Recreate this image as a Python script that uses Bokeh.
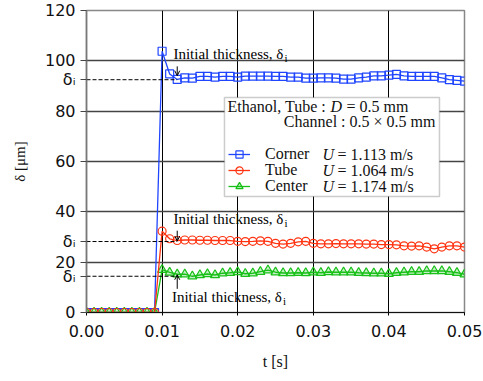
import math
from bokeh.plotting import figure
from bokeh.models import (Range1d, FixedTicker, NumeralTickFormatter, Label, Arrow, OpenHead,
                          BoxAnnotation, Legend, LegendItem)
from bokeh.embed import file_html
from bokeh.resources import INLINE

# ---------------- data ----------------
t = [0.000, 0.001, 0.002, 0.003, 0.004, 0.005, 0.006, 0.007, 0.008, 0.009,
     0.010, 0.011, 0.012, 0.013, 0.014, 0.015, 0.016, 0.017, 0.018, 0.019,
     0.020, 0.021, 0.022, 0.023, 0.024, 0.025, 0.026, 0.027, 0.028, 0.029,
     0.030, 0.031, 0.032, 0.033, 0.034, 0.035, 0.036, 0.037, 0.038, 0.039,
     0.040, 0.041, 0.042, 0.043, 0.044, 0.045, 0.046, 0.047, 0.048, 0.049,
     0.050]

corner = [0.0, 0.0, 0.0, 0.0, 0.0, 0.0, 0.0, 0.0, 0.0, 0.0,
          103.8, 94.8, 92.6, 93.2, 93.1, 93.8, 93.8, 93.5, 93.8, 93.8,
          93.5, 93.9, 93.9, 93.9, 93.9, 93.8, 93.8, 93.5, 93.5, 93.1,
          93.1, 93.2, 93.2, 93.1, 92.7, 92.7, 93.2, 93.5, 94.0, 94.0,
          94.3, 94.6, 94.0, 93.8, 93.8, 93.8, 93.8, 93.2, 92.5, 92.2,
          91.9]

tube = [0.0, 0.0, 0.0, 0.0, 0.0, 0.0, 0.0, 0.0, 0.0, 0.0,
        32.3, 29.3, 28.6, 28.8, 28.8, 28.7, 28.7, 28.6, 28.6, 28.6,
        28.3, 28.2, 28.3, 28.5, 28.3, 27.5, 27.2, 27.5, 28.1, 28.3,
        27.5, 27.3, 27.3, 27.4, 27.3, 27.3, 27.3, 27.2, 27.2, 27.0,
        27.0, 26.9, 26.5, 26.4, 26.5, 26.0, 25.3, 26.0, 26.5, 26.5,
        26.0]

center = [0.0, 0.0, 0.0, 0.0, 0.0, 0.0, 0.0, 0.0, 0.0, 0.0,
          17.0, 15.9, 15.2, 15.2, 14.4, 14.9, 15.3, 14.9, 15.6, 15.8,
          16.1, 15.4, 15.6, 16.2, 16.8, 16.0, 15.7, 15.7, 15.8, 15.7,
          16.0, 15.8, 16.1, 16.0, 16.0, 16.0, 15.8, 15.7, 15.6, 15.6,
          15.4, 15.8, 16.0, 16.2, 16.2, 16.5, 16.5, 16.5, 16.2, 15.8,
          15.2]

series_names = ["Corner", "Tube", "Center"]
velocities = ["= 1.113 m/s", "= 1.064 m/s", "= 1.174 m/s"]
initial_thickness = [92.5, 28.2, 14.4]   # delta_i for Corner, Tube, Center
t_initial = t[12]                         # time where delta_i is read

y_ticks = [0, 20, 40, 60, 80, 100, 120]
x_ticks = [0.00, 0.01, 0.02, 0.03, 0.04, 0.05]

# ---------------- style ----------------
SERIF = "Liberation Serif"
SANS = "DejaVu Sans"
BLUE = "#1f45ff"
RED = "#ff3311"
GREEN = "#18c018"

p = figure(width=483, height=381, output_backend="svg", toolbar_location=None,
           x_range=Range1d(0, 0.05), y_range=Range1d(0, 120),
           min_border_left=86, min_border_right=19, min_border_top=10, min_border_bottom=69)
p.background_fill_color = "white"
p.border_fill_color = "white"
p.outline_line_color = "#888888"
p.outline_line_width = 1.5

p.xaxis.ticker = FixedTicker(ticks=x_ticks)
p.yaxis.ticker = FixedTicker(ticks=sorted(y_ticks + initial_thickness))
p.yaxis.major_label_overrides = {di: "δᵢ" for di in initial_thickness}
p.xgrid.ticker = FixedTicker(ticks=x_ticks)
p.ygrid.ticker = FixedTicker(ticks=y_ticks)
p.xaxis.formatter = NumeralTickFormatter(format="0.00")
for ax in (p.xaxis[0], p.yaxis[0]):
    ax.major_label_text_font = SANS
    ax.major_label_text_font_size = "16px"
    ax.major_label_text_color = "#111111"
    ax.minor_tick_line_color = None
    ax.major_tick_in = 0
    ax.axis_label_text_font = SERIF
    ax.axis_label_text_font_style = "normal"
    ax.axis_label_text_color = "#111111"
p.yaxis.major_tick_out = 6
p.yaxis.major_label_standoff = 5
p.yaxis.axis_line_color = "#777777"
p.yaxis.axis_line_width = 1.5
p.yaxis.major_tick_line_color = "#444444"
p.yaxis.axis_label = "δ [μm]"
p.yaxis.axis_label_text_font_size = "15px"
p.yaxis.axis_label_standoff = 14
p.xaxis.major_tick_out = 3
p.xaxis.major_label_standoff = 9
p.xaxis.axis_line_color = "#111111"
p.xaxis.axis_line_width = 1.2
p.xaxis.axis_label = "t [s]"
p.xaxis.axis_label_text_font_size = "16px"
p.xaxis.axis_label_standoff = 13

p.xgrid.grid_line_color = "#000000"
p.xgrid.grid_line_width = 1
p.ygrid.grid_line_color = "#444444"
p.ygrid.grid_line_width = 1.3

# ---------------- data glyphs ----------------
lc = p.line(t, corner, line_color=BLUE, line_width=1.3)
sc = p.scatter(t, corner, marker="square", size=8, line_color=BLUE, fill_alpha=0, line_width=1.2)
lg = p.line(t, center, line_color=GREEN, line_width=1.3)
sg = p.scatter(t, center, marker="triangle", size=9, line_color=GREEN, fill_color=GREEN,
               fill_alpha=0.25, line_width=1.2)
lt = p.line(t, tube, line_color=RED, line_width=1.3)
st = p.scatter(t, tube, marker="circle", size=8, line_color=RED, fill_alpha=0, line_width=1.2)

# initial thickness dashed lines
for di in initial_thickness:
    p.line([t[0], t_initial], [di, di], line_color="black", line_dash="4 2", line_width=1)

# "Initial thickness" annotations
ann = [(0.0115, 102.8), (0.0115, 37.0), (0.0113, 6.1)]
for (ax_, ay_) in ann:
    p.add_layout(Label(x=ax_, y=ay_, text="Initial thickness, δ", text_align="left",
                       text_baseline="middle", text_font=SERIF, text_font_size="15px",
                       text_color="black"))
    p.add_layout(Label(x=ax_, y=ay_, text="i", text_align="left", text_baseline="middle",
                       x_offset=111, y_offset=-4, text_font=SERIF, text_font_size="11px",
                       text_color="black"))

arrows = [(initial_thickness[0] + 5.3, initial_thickness[0] + 1.6),
          (initial_thickness[1] + 4.3, initial_thickness[1] + 0.2),
          (initial_thickness[2] - 5.0, initial_thickness[2] + 0.6)]
for (ys, ye) in arrows:
    p.add_layout(Arrow(x_start=t_initial, y_start=ys, x_end=t_initial, y_end=ye,
                       line_color="black", line_width=1,
                       end=OpenHead(size=5, line_color="black", line_width=1)))

# ---------------- legend box ----------------
p.add_layout(BoxAnnotation(left=0.01825, right=0.04669, top=85.4, bottom=46.1,
                           fill_color="white", fill_alpha=1.0, line_color="#555555",
                           line_width=1.5, level="annotation"))

renderer_pairs = [[lc, sc], [lt, st], [lg, sg]]
row_y = [149, 133, 117]
for name, rends, ly in zip(series_names, renderer_pairs, row_y):
    leg = Legend(items=[LegendItem(label=name, renderers=rends)],
                 location=(142, ly), padding=0, spacing=0, margin=0,
                 glyph_width=22, glyph_height=18, label_height=18, label_standoff=15,
                 label_text_font=SERIF, label_text_font_size="16px",
                 label_text_color="#111111",
                 border_line_alpha=0, background_fill_alpha=0)
    p.add_layout(leg)

p.add_layout(Label(x=0.01865, y=81.85, text="Ethanol, Tube : ", text_baseline="middle",
                   text_font=SERIF, text_font_size="16px", text_color="#111111"))
p.add_layout(Label(x=0.01865, y=81.85, text="D", x_offset=103, text_baseline="middle",
                   text_font=SERIF, text_font_size="16px", text_font_style="italic",
                   text_color="#111111"))
p.add_layout(Label(x=0.01865, y=81.85, text="= 0.5 mm", x_offset=119, text_baseline="middle",
                   text_font=SERIF, text_font_size="16px", text_color="#111111"))
p.add_layout(Label(x=0.04616, y=76.0, text="Channel : 0.5 × 0.5 mm", text_align="right",
                   text_baseline="middle", text_font=SERIF, text_font_size="16px",
                   text_color="#111111"))
for yv, vel in zip([62.66, 56.42, 50.18], velocities):
    p.add_layout(Label(x=0.03122, y=yv, text="U", text_baseline="middle", text_font=SERIF,
                       text_font_size="16px", text_font_style="italic", text_color="#111111"))
    p.add_layout(Label(x=0.03122, y=yv, text=vel, x_offset=15, text_baseline="middle",
                       text_font=SERIF, text_font_size="16px", text_color="#111111"))

open("out.html", "w").write(file_html(p, INLINE))
